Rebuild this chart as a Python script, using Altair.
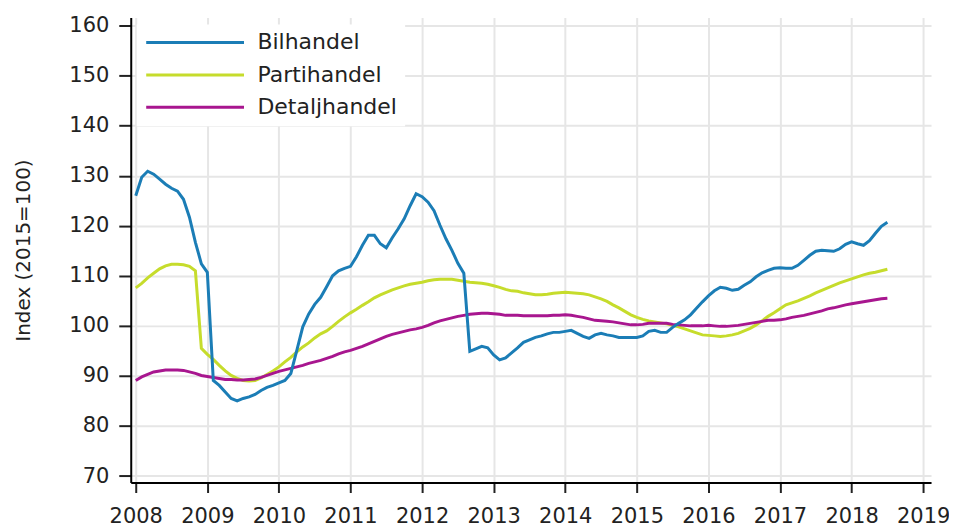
import altair as alt
import pandas as pd

months = pd.date_range("2008-01-01", "2018-07-01", freq="MS")

bilhandel = [
    126.0, 129.7, 130.9, 130.3, 129.3, 128.3, 127.5, 126.9, 125.3, 121.7, 116.7, 112.4,
    110.7, 89.1, 88.1, 86.8, 85.5, 85.0, 85.5, 85.8, 86.3, 87.1, 87.7, 88.1,
    88.6, 89.1, 90.5, 95.1, 99.8, 102.4, 104.3, 105.7, 107.8, 110.0, 111.0, 111.5,
    111.9, 113.8, 116.1, 118.1, 118.1, 116.4, 115.6, 117.6, 119.4, 121.4, 124.0, 126.4,
    125.8, 124.7, 123.0, 120.1, 117.4, 115.1, 112.5, 110.5, 94.9, 95.4, 95.9, 95.6,
    94.2, 93.2, 93.6, 94.6, 95.6, 96.7, 97.2, 97.7, 98.0, 98.4, 98.7, 98.7,
    98.9, 99.1, 98.5, 97.9, 97.5, 98.2, 98.5, 98.2, 98.0, 97.7, 97.7, 97.7,
    97.7, 98.0, 98.9, 99.1, 98.7, 98.7, 99.7, 100.5, 101.2, 102.2, 103.5, 104.8,
    106.0, 107.0, 107.7, 107.5, 107.1, 107.3, 108.1, 108.8, 109.8, 110.6, 111.1, 111.5,
    111.6, 111.5, 111.5, 112.1, 113.1, 114.1, 114.9, 115.1, 115.0, 114.9, 115.4, 116.3,
    116.8, 116.4, 116.1, 117.0, 118.5, 119.9, 120.7,
]

partihandel = [
    107.6, 108.5, 109.6, 110.5, 111.4, 112.0, 112.3, 112.3, 112.2, 111.9, 111.0, 95.5,
    94.3, 93.3, 92.1, 91.0, 90.1, 89.5, 89.1, 89.0, 89.1, 89.6, 90.3, 91.0,
    91.8, 92.8, 93.7, 94.8, 95.8, 96.6, 97.6, 98.4, 99.0, 99.9, 100.9, 101.8,
    102.6, 103.3, 104.1, 104.8, 105.6, 106.2, 106.7, 107.2, 107.6, 108.0, 108.3, 108.5,
    108.7, 109.0, 109.2, 109.3, 109.3, 109.3, 109.1, 108.9, 108.7, 108.6, 108.5, 108.3,
    108.0, 107.7, 107.3, 107.0, 106.9, 106.6, 106.4, 106.2, 106.2, 106.3, 106.5, 106.6,
    106.7, 106.6, 106.5, 106.4, 106.2, 105.8, 105.4, 104.9, 104.2, 103.6, 102.9, 102.2,
    101.7, 101.3, 101.0, 100.8, 100.6, 100.4, 100.1, 99.8, 99.4, 99.0, 98.6, 98.2,
    98.1, 98.0, 97.9, 98.0, 98.2, 98.5, 99.0, 99.5, 100.2, 101.0, 101.9, 102.6,
    103.4, 104.2, 104.6, 105.0, 105.5, 106.0, 106.6, 107.1, 107.6, 108.1, 108.6, 109.0,
    109.4, 109.8, 110.2, 110.5, 110.7, 111.0, 111.3,
]

detaljhandel = [
    89.1, 89.8, 90.3, 90.8, 91.0, 91.2, 91.2, 91.2, 91.1, 90.8, 90.5, 90.1,
    89.9, 89.7, 89.5, 89.3, 89.3, 89.2, 89.2, 89.3, 89.4, 89.7, 90.1, 90.5,
    90.9, 91.2, 91.5, 91.8, 92.1, 92.5, 92.8, 93.1, 93.5, 93.9, 94.4, 94.8,
    95.1, 95.5, 95.9, 96.4, 96.9, 97.4, 97.9, 98.3, 98.6, 98.9, 99.2, 99.4,
    99.7, 100.1, 100.6, 101.0, 101.3, 101.6, 101.9, 102.1, 102.3, 102.4, 102.5, 102.5,
    102.4, 102.3, 102.1, 102.1, 102.1, 102.0, 102.0, 102.0, 102.0, 102.0, 102.1, 102.1,
    102.2, 102.1, 101.9, 101.7, 101.4, 101.1, 101.0, 100.9, 100.8, 100.6, 100.4, 100.2,
    100.2, 100.3, 100.5, 100.5, 100.5, 100.5, 100.3, 100.2, 100.1, 100.0, 100.0, 100.0,
    100.1, 100.0, 99.9, 99.9, 100.0, 100.1, 100.3, 100.5, 100.7, 100.9, 101.1, 101.1,
    101.2, 101.4, 101.7, 101.9, 102.1, 102.4, 102.7, 103.0, 103.4, 103.6, 103.9, 104.2,
    104.4, 104.6, 104.8, 105.0, 105.2, 105.4, 105.5,
]

series_names = ["Bilhandel", "Partihandel", "Detaljhandel"]
series_colors = ["#1b7db6", "#c6dc2c", "#a8168f"]
year_ticks = list(range(2008, 2020))
y_ticks = list(range(70, 161, 10))

frames = []
for name, vals, order in [("Partihandel", partihandel, 0),
                          ("Detaljhandel", detaljhandel, 1),
                          ("Bilhandel", bilhandel, 2)]:
    frames.append(pd.DataFrame({
        "t": months.year + (months.month - 1) / 12.0,
        "value": vals,
        "serie": name,
        "ord": order,
    }))
df = pd.concat(frames, ignore_index=True)

FONT = "DejaVu Sans"

chart = alt.Chart(df).mark_line(strokeWidth=3).encode(
    x=alt.X("t:Q",
            scale=alt.Scale(domain=[2007.93, 2019.11], nice=False, zero=False),
            axis=alt.Axis(values=year_ticks, format="d", title=None,
                          tickSize=10, labelPadding=13)),
    y=alt.Y("value:Q",
            scale=alt.Scale(domain=[68.7, 161.6], nice=False, zero=False),
            axis=alt.Axis(values=y_ticks, title="Index (2015=100)",
                          tickSize=12, labelPadding=10,
                          titleAngle=-90, titleX=-107, titleY=233,
                          titleAlign="center", titleBaseline="middle",
                          titleFontSize=20, titleFont=FONT,
                          titleFontWeight="normal", titleColor="#222222")),
    color=alt.Color("serie:N",
                    scale=alt.Scale(domain=series_names, range=series_colors),
                    legend=alt.Legend(title=None, orient="none",
                                      legendX=6, legendY=7,
                                      fillColor="white", padding=8,
                                      symbolType="stroke", symbolSize=9604,
                                      symbolStrokeWidth=3, clipHeight=20,
                                      rowPadding=10.5, labelOffset=12,
                                      labelFontSize=22, labelFont=FONT,
                                      labelColor="#222222")),
    detail="ord:O",
    order="ord:Q",
).properties(
    width=802,
    height=466,
    autosize=alt.AutoSizeParams(type="none"),
    padding={"left": 123, "top": 9, "right": 18, "bottom": 44},
).configure_view(
    stroke=None
).configure_axis(
    labelFont=FONT, labelFontSize=21, labelColor="#222222",
    domainColor="#000000", domainWidth=2,
    tickColor="#222222", tickWidth=2,
    gridColor="#e6e6e6", gridWidth=2,
)

chart.save("out.html", embed_options={"renderer": "svg", "actions": False})
